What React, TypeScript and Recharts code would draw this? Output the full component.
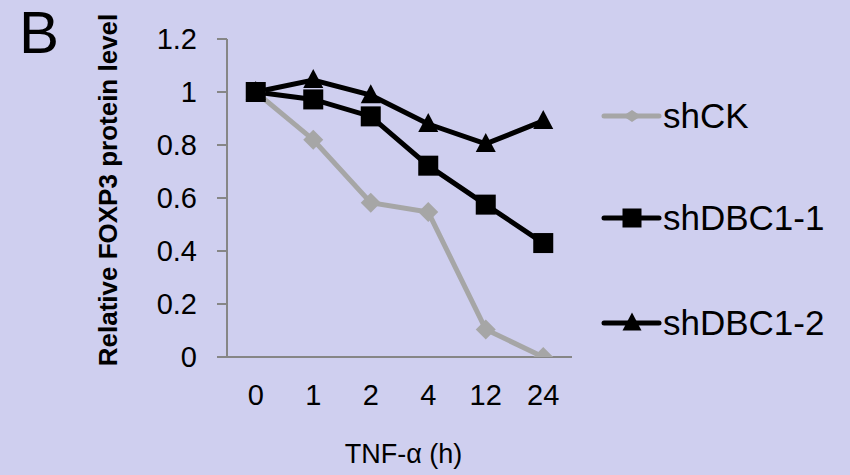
import React from 'react';
import { LineChart, Line, XAxis, YAxis, Legend } from 'recharts';

const categories = ['0', '1', '2', '4', '12', '24'];
const shCK = [1.0, 0.82, 0.582, 0.547, 0.104, 0.0];
const shDBC1_1 = [1.0, 0.972, 0.908, 0.722, 0.575, 0.43];
const shDBC1_2 = [1.0, 1.045, 0.988, 0.879, 0.804, 0.891];
const yTicks = [0, 0.2, 0.4, 0.6, 0.8, 1, 1.2];
const yTickLabels = ['0', '0.2', '0.4', '0.6', '0.8', '1', '1.2'];
const seriesNames = ['shCK', 'shDBC1-1', 'shDBC1-2'];
const seriesKeys = ['shCK', 'shDBC1_1', 'shDBC1_2'];
const seriesColors = ['#A6A6A6', '#000000', '#000000'];
const seriesShapes = ['diamond', 'square', 'triangle'];

const boundaryTicks = [0, 1, 2, 3, 4, 5, 6];
const centerTicks = categories.map((_, i) => i + 0.5);

const data = categories.map((c, i) => ({
  x: i + 0.5,
  cat: c,
  shCK: shCK[i],
  shDBC1_1: shDBC1_1[i],
  shDBC1_2: shDBC1_2[i],
}));

const FONT = "'Liberation Sans', Arial, Helvetica, sans-serif";
const BG = '#CFCFEF';
const AXIS = '#868686';

function Marker({ shape, cx, cy, color, s = 1 }: any) {
  if (shape === 'diamond') {
    const r = 10 * s;
    return <polygon points={`${cx},${cy - r} ${cx + r},${cy} ${cx},${cy + r} ${cx - r},${cy}`} fill={color} />;
  }
  if (shape === 'square') {
    const h = 10 * s;
    return <rect x={cx - h} y={cy - h} width={2 * h} height={2 * h} fill={color} />;
  }
  const w = 10 * s;
  return <polygon points={`${cx},${cy - 11 * s} ${cx + w},${cy + 8 * s} ${cx - w},${cy + 8 * s}`} fill={color} />;
}

const makeDot = (shape: string, color: string) => (props: any) => {
  const { cx, cy, index } = props;
  if (cx == null || cy == null) return <g key={`d-${shape}-${index}`} />;
  return (
    <g key={`d-${shape}-${index}`}>
      <Marker shape={shape} cx={cx} cy={cy} color={color} />
    </g>
  );
};

const legendRowsY = [26, 128, 233];

function LegendContent() {
  return (
    <svg width={250} height={280} style={{ display: 'block' }}>
      {seriesNames.map((name, i) => (
        <g key={name}>
          <line x1={4} x2={59} y1={legendRowsY[i]} y2={legendRowsY[i]} stroke={seriesColors[i]} strokeWidth={5} strokeLinecap="round" />
          {seriesShapes[i] === 'diamond' ? (
            <polygon
              points={`32,${legendRowsY[i] - 6} 41,${legendRowsY[i]} 32,${legendRowsY[i] + 6} 23,${legendRowsY[i]}`}
              fill={seriesColors[i]}
            />
          ) : (
            <Marker shape={seriesShapes[i]} cx={32} cy={legendRowsY[i]} color={seriesColors[i]} s={0.95} />
          )}
          <text x={63} y={legendRowsY[i] + 12} fontSize={35} fontFamily={FONT} fill="#000">
            {name}
          </text>
        </g>
      ))}
    </svg>
  );
}

export default function App() {
  return (
    <div style={{ position: 'absolute', left: 0, top: 0, width: 850, height: 475, background: BG, overflow: 'hidden' }}>
      <div style={{ position: 'absolute', left: 19, top: 0, fontFamily: FONT, fontSize: 60, lineHeight: '66px', color: '#000' }}>B</div>
      <LineChart width={850} height={475} data={data} margin={{ top: 39, right: 278, bottom: 116, left: 0 }}>
        <XAxis
          dataKey="x"
          type="number"
          domain={[0, 6]}
          ticks={boundaryTicks}
          tick={false}
          height={1}
          tickSize={10}
          axisLine={{ stroke: AXIS, strokeWidth: 2 }}
          tickLine={{ stroke: AXIS, strokeWidth: 2 }}
          allowDataOverflow
        />
        <XAxis
          xAxisId="lab"
          dataKey="x"
          type="number"
          domain={[0, 6]}
          ticks={centerTicks}
          tickFormatter={(v: number) => categories[Math.round(v - 0.5)]}
          height={1}
          tickSize={0}
          tickMargin={26}
          axisLine={false}
          tickLine={false}
          tick={{ fontSize: 29, fill: '#000', fontFamily: FONT }}
          allowDataOverflow
          label={{
            content: (p: any) => {
              const vb = p.viewBox || {};
              const cx = vb.x + vb.width / 2 + 4;
              const y = vb.y + 105;
              return (
                <text x={cx} y={y} textAnchor="middle" fontSize={27} fontFamily={FONT} fill="#000">
                  TNF-α (h)
                </text>
              );
            },
          }}
        />
        <YAxis
          type="number"
          domain={[0, 1.2]}
          ticks={yTicks}
          tickFormatter={(v: number) => yTickLabels[yTicks.indexOf(v)]}
          width={227}
          tickSize={10}
          tickMargin={20}
          axisLine={{ stroke: AXIS, strokeWidth: 2 }}
          tickLine={{ stroke: AXIS, strokeWidth: 2 }}
          tick={{ fontSize: 29, fill: '#000', fontFamily: FONT }}
          allowDataOverflow
          label={{
            content: (p: any) => {
              const vb = p.viewBox || {};
              const cx = 108;
              const cy = vb.y + vb.height / 2 - 8;
              return (
                <text
                  x={cx}
                  y={cy}
                  transform={`rotate(-90 ${cx} ${cy})`}
                  textAnchor="middle"
                  dominantBaseline="central"
                  fontSize={26}
                  fontWeight="bold"
                  fontFamily={FONT}
                  fill="#000"
                >
                  Relative FOXP3 protein level
                </text>
              );
            },
          }}
        />
        {seriesKeys.map((k, i) => (
          <Line
            key={k}
            dataKey={k}
            name={seriesNames[i]}
            stroke={seriesColors[i]}
            strokeWidth={5}
            dot={makeDot(seriesShapes[i], seriesColors[i])}
            activeDot={false}
            isAnimationActive={false}
          />
        ))}
        <Legend
          layout="horizontal"
          align="center"
          verticalAlign="middle"
          wrapperStyle={{ left: 600, top: 90, width: 250, height: 280 }}
          content={() => <LegendContent />}
        />
      </LineChart>
    </div>
  );
}
